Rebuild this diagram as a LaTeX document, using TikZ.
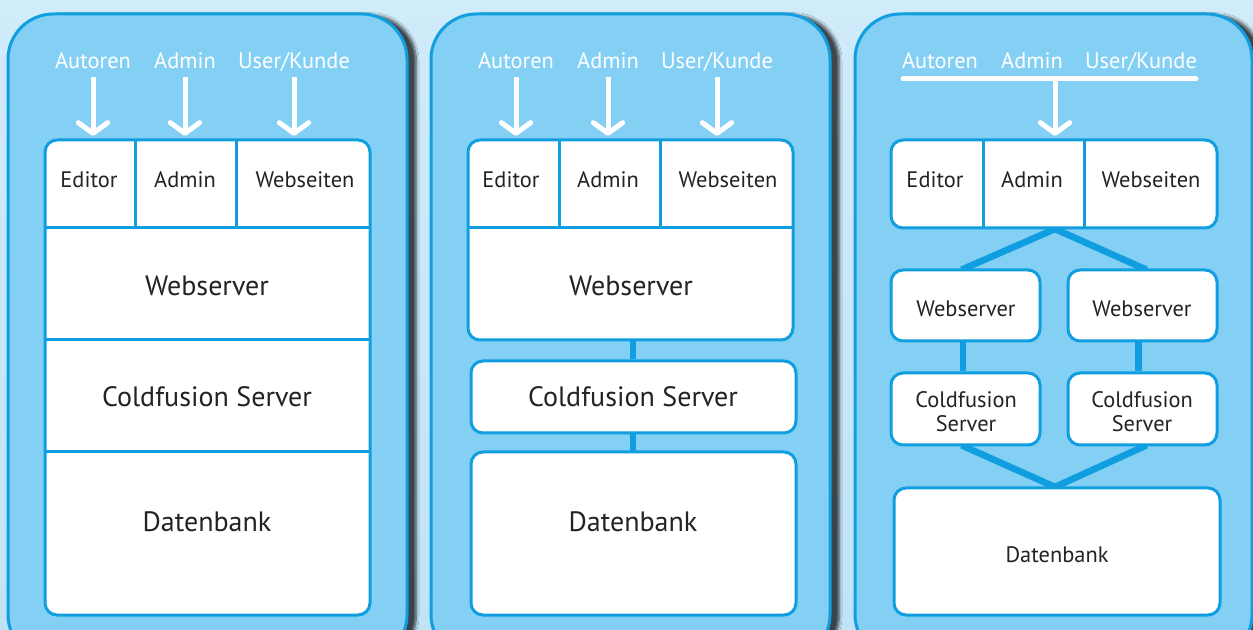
\documentclass[tikz,border=0pt]{standalone}
\usepackage{fontspec}
\setmainfont{PT Sans}
\usetikzlibrary{arrows.meta,shadows.blur,fit}
\definecolor{bgtop}{RGB}{208,235,250}
\definecolor{bgbot}{RGB}{192,227,247}
\definecolor{panelc}{RGB}{132,208,245}
\definecolor{edgec}{RGB}{16,158,224}
\definecolor{inkc}{RGB}{35,35,35}
\definecolor{shadowc}{RGB}{30,80,135}
\tikzset{
  panelbox/.style={draw=edgec, line width=2.25pt, fill=panelc, rounded corners=34pt,
    blur shadow={shadow xshift=7pt, shadow yshift=-1pt, shadow blur steps=8, shadow opacity=70, shadow blur extra rounding=2pt}},
  cell/.style={inner sep=0pt, draw=none},
  rbox/.style={inner sep=0pt, draw=edgec, line width=2.25pt, fill=white, rounded corners=9pt},
  divline/.style={draw=edgec, line width=2.25pt},
  conn/.style={draw=edgec, line width=5pt},
  smallf/.style={font=\fontsize{16.8}{18}\selectfont, text=inkc, inner sep=0pt},
  small/.style={smallf, text height=0.7em, text depth=0pt, yshift=-3.8pt},
  big/.style={font=\fontsize{21}{24}\selectfont, text=inkc, inner sep=0pt, text height=0.7em, text depth=0pt, yshift=-4pt},
  who/.style={font=\fontsize{16.8}{18}\selectfont, text=white, inner sep=0pt, text height=0.7em, text depth=0pt, yshift=-2.5pt},
  arr/.style={draw=white, line width=3.75pt, -{Straight Barb[length=8pt,width=22pt,round]}},
  wline/.style={draw=white, line width=3.75pt, line cap=round},
}
\begin{document}
\begin{tikzpicture}[x=0.75pt,y=-0.75pt]
\shade[top color=bgtop,bottom color=bgbot] (0,0) rectangle (1253,630);
\useasboundingbox (0,0) rectangle (1253,630);
\begin{scope}
\clip (0,0) rectangle (1253,630);
\path[panelbox] (8,14) rectangle (407,660);
\path[panelbox] (431,14) rectangle (830,660);
\path[panelbox] (855,14) rectangle (1252,660);
\end{scope}

% ---------- panel 1 ----------
\node[rbox, fit={(45,140)(370,615)}] (stack1) {};
\node[cell, fit={(45,140)(135,228)}] (c1ed) {};
\node[cell, fit={(135,140)(236,228)}] (c1ad) {};
\node[cell, fit={(236,140)(370,228)}] (c1wb) {};
\node[cell, fit={(45,228)(370,340)}] (c1ws) {};
\node[cell, fit={(45,340)(370,452)}] (c1cf) {};
\node[cell, fit={(45,452)(370,615)}] (c1db) {};
\path[divline] (c1ed.north east) -- (c1ed.south east);
\path[divline] (c1ad.north east) -- (c1ad.south east);
\path[divline] (c1ws.north west) -- (c1ws.north east);
\path[divline] (c1cf.north west) -- (c1cf.north east);
\path[divline] (c1db.north west) -- (c1db.north east);
\node[small] (t1ed) at (89,178) {Editor};
\node[small] (t1ad) at (185,178) {Admin};
\node[small] (t1wb) at (305,178) {Webseiten};
\node[big] (t1ws) at (207,286) {Webserver};
\node[big] (t1cf) at (207,397) {Coldfusion Server};
\node[big] (t1db) at (207,522) {Datenbank};
\node[who] (w1a) at (93,61) {Autoren};
\node[who] (w1b) at (185,61) {Admin};
\node[who] (w1c) at (294,61) {User/Kunde};
\path[arr] ([yshift=-6pt]w1a.south) -- ([yshift=2pt]w1a.south |- stack1.north);
\path[arr] ([yshift=-6pt]w1b.south) -- ([yshift=2pt]w1b.south |- stack1.north);
\path[arr] ([yshift=-6pt]w1c.south) -- ([yshift=2pt]w1c.south |- stack1.north);

% ---------- panel 2 ----------
\node[rbox, fit={(468,140)(793,340)}] (top2) {};
\node[rbox, fit={(471,361)(796,433)}] (cf2) {};
\node[rbox, fit={(471,452)(796,615)}] (db2) {};
\node[cell, fit={(468,140)(559,228)}] (c2ed) {};
\node[cell, fit={(559,140)(660,228)}] (c2ad) {};
\node[cell, fit={(468,228)(793,340)}] (c2ws) {};
\path[divline] (c2ed.north east) -- (c2ed.south east);
\path[divline] (c2ad.north east) -- (c2ad.south east);
\path[divline] (c2ws.north west) -- (c2ws.north east);
\coordinate (p2a) at (633,340);
\coordinate (p2b) at (633,452);
\path[conn] ([yshift=-1pt]p2a) -- (p2a |- cf2.north);
\path[conn] (p2a |- cf2.south) -- ([yshift=1pt]p2b);
\node[small] (t2ed) at (511,178) {Editor};
\node[small] (t2ad) at (608,178) {Admin};
\node[small] (t2wb) at (728,178) {Webseiten};
\node[big] (t2ws) at (631,286) {Webserver};
\node[big] (t2cf) at (633,397) {Coldfusion Server};
\node[big] (t2db) at (633,522) {Datenbank};
\node[who] (w2a) at (516,61) {Autoren};
\node[who] (w2b) at (608,61) {Admin};
\node[who] (w2c) at (717,61) {User/Kunde};
\path[arr] ([yshift=-6pt]w2a.south) -- ([yshift=2pt]w2a.south |- top2.north);
\path[arr] ([yshift=-6pt]w2b.south) -- ([yshift=2pt]w2b.south |- top2.north);
\path[arr] ([yshift=-6pt]w2c.south) -- ([yshift=2pt]w2c.south |- top2.north);

% ---------- panel 3 ----------
\coordinate (hub3t) at (1055,229);
\coordinate (hub3b) at (1055,487);
\node[cell, fit={(891,270)(1040,341)}] (ws3lg) {};
\node[cell, fit={(1068,270)(1217,341)}] (ws3rg) {};
\node[cell, fit={(891,373)(1040,445)}] (cf3lg) {};
\node[cell, fit={(1068,373)(1217,445)}] (cf3rg) {};
\path[conn] (hub3t) -- ([xshift=-3pt]ws3lg.north);
\path[conn] (hub3t) -- ([xshift=3pt]ws3rg.north);
\path[conn] ([xshift=-3pt]cf3lg.south) -- (hub3b);
\path[conn] ([xshift=3pt]cf3rg.south) -- (hub3b);
\node[rbox, fit={(891,140)(1217,228)}] (top3) {};
\node[rbox, fit={(891,270)(1040,341)}] (ws3l) {};
\node[rbox, fit={(1068,270)(1217,341)}] (ws3r) {};
\node[rbox, fit={(891,373)(1040,445)}] (cf3l) {};
\node[rbox, fit={(1068,373)(1217,445)}] (cf3r) {};
\node[rbox, fit={(894,488)(1220,615)}] (db3) {};
\path[conn] ([xshift=-2pt]ws3l.south) -- ([xshift=-2pt]cf3l.north);
\path[conn] ([xshift=-3pt]ws3r.south) -- ([xshift=-3pt]cf3r.north);
\node[cell, fit={(891,140)(983,228)}] (c3ed) {};
\node[cell, fit={(983,140)(1084,228)}] (c3ad) {};
\path[divline] (c3ed.north east) -- (c3ed.south east);
\path[divline] (c3ad.north east) -- (c3ad.south east);
\node[small] (t3ed) at (935,178) {Editor};
\node[small] (t3ad) at (1032,178) {Admin};
\node[small] (t3wb) at (1151,178) {Webseiten};
\node[small] (t3wsl) at (966,307) {Webserver};
\node[small] (t3wsr) at (1142,307) {Webserver};
\node[smallf, align=center, font=\fontsize{16.8}{18}\selectfont] (t3cfl) at (966,412) {Coldfusion\\Server};
\node[smallf, align=center, font=\fontsize{16.8}{18}\selectfont] (t3cfr) at (1142,412) {Coldfusion\\Server};
\node[small] (t3db) at (1057,553) {Datenbank};
\node[who] (w3a) at (940,61) {Autoren};
\node[who] (w3b) at (1032,61) {Admin};
\node[who] (w3c) at (1141,61) {User/Kunde};
\coordinate (bar3l) at (903,79);
\coordinate (bar3r) at (1196,79);
\coordinate (bar3m) at (1055,79);
\path[wline] (bar3l) -- (bar3r);
\path[arr] (bar3m) -- ([yshift=2pt]bar3m |- top3.north);
\end{tikzpicture}
\end{document}
